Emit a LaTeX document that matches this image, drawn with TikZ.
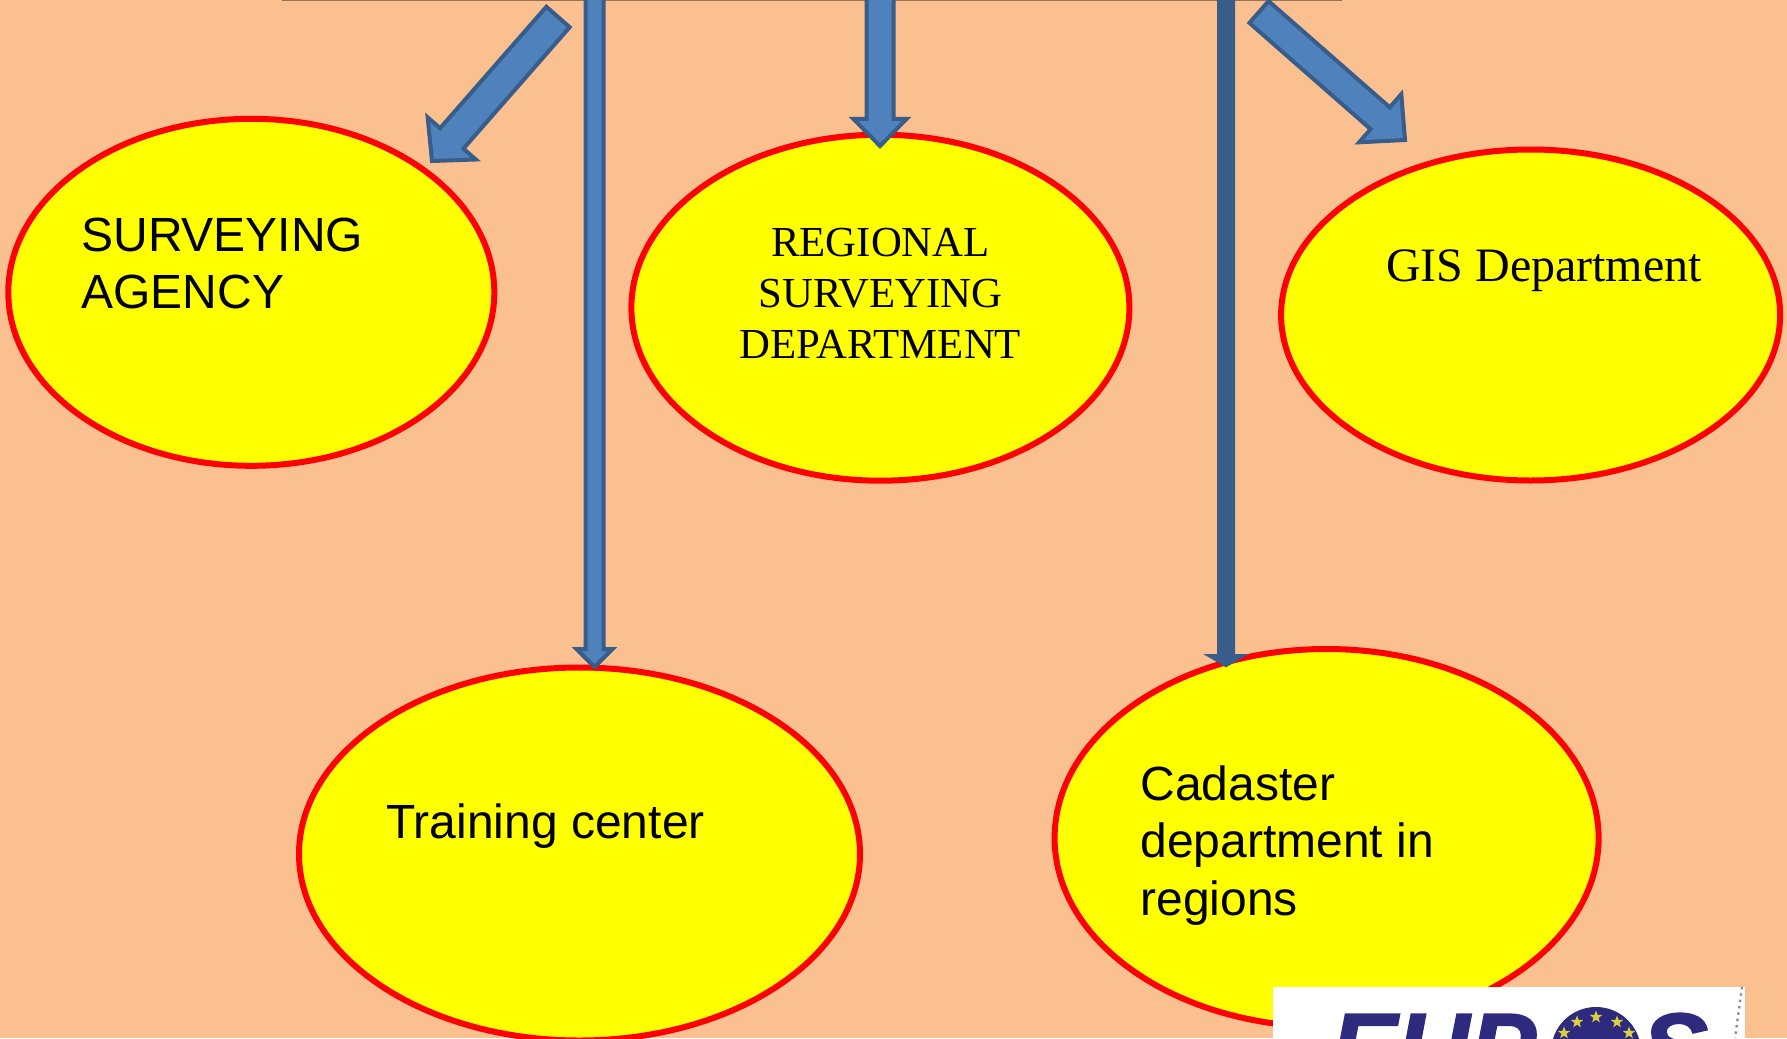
\documentclass[tikz,border=0pt]{standalone}
\usepackage{fontspec}
\setmainfont{Liberation Sans}
\newfontfamily\serifface{Liberation Serif}
\newfontfamily\logoface[BoldItalicFeatures={FakeBold=1.5}]{Liberation Sans}
\usetikzlibrary{calc,shapes.geometric}
\definecolor{pagebg}{HTML}{FAC090}
\definecolor{arrowfill}{HTML}{4F81BD}
\definecolor{arrowline}{HTML}{385D8A}
\definecolor{logoblue}{HTML}{2E2A7E}
\definecolor{officefill}{HTML}{FFFF00}
\definecolor{officeline}{HTML}{FF0000}
\definecolor{logostar}{HTML}{D8D040}
\tikzset{
  office/.style={draw=officeline,fill=officefill,ellipse,line width=3pt,inner sep=0pt},
  blockarrow/.style={draw=arrowline,fill=arrowfill,line width=2pt,line join=miter},
  sanslabel/.style={font=\fontsize{24}{28.6}\selectfont,align=left,inner sep=0pt},
  seriflabel/.style={font=\serifface\fontsize{21.4}{25.6}\selectfont,align=center,inner sep=0pt},
  logoletter/.style={font=\logoface\fontsize{50}{50}\selectfont\bfseries\itshape,text=logoblue,inner sep=0pt}
}
% tail, tip, half shaft width, half head width, head length
\newcommand{\blockarrow}[6][]{
  \coordinate (base) at ($(#3)!#6!(#2)$);
  \draw[blockarrow,#1] ($(#2)!#4!90:(#3)$) -- ($(base)!#4!90:(#3)$) -- ($(base)!#5!90:(#3)$) -- (#3)
    -- ($(base)!#5!-90:(#3)$) -- ($(base)!#4!-90:(#3)$) -- ($(#2)!#4!-90:(#3)$) -- cycle;
}
\begin{document}
\begin{tikzpicture}[x=.5pt,y=-.5pt]
  \useasboundingbox (0,0) rectangle (1787,1038);
  \fill[pagebg] (0,0) rectangle (1787,1038);
  \coordinate (barleft) at (282,.5);
  \coordinate (barright) at (1342,.5);
  \draw[color=black!40!pagebg,line width=.8pt] (barleft) -- (barright);

  % offices
  \node[office,minimum width=243pt,minimum height=173.5pt] (surveying) at (251.3,292.3) {};
  \node[office,minimum width=249pt,minimum height=173pt] (regional) at (880.4,307.7) {};
  \node[office,minimum width=249.5pt,minimum height=165.5pt] (gis) at (1530.6,315) {};
  \node[office,minimum width=280.5pt,minimum height=186.5pt] (training) at (579.5,854) {};
  \node[office,minimum width=272pt,minimum height=189pt] (cadaster) at (1326.6,838) {};

  \node[sanslabel,anchor=west] (surveyingtext) at (81,263.5) {SURVEYING\\AGENCY};
  \node[seriflabel] (regionaltext) at (880.5,293.5) {REGIONAL\\SURVEYING\\DEPARTMENT};
  \node[seriflabel,font=\serifface\fontsize{24}{28}\selectfont] (gistext) at (1544,270.5) {GIS Department};
  \node[sanslabel,anchor=west] (trainingtext) at (386,826) {Training center};
  \node[sanslabel,anchor=west] (cadastertext) at (1140,845.5) {Cadaster\\department in\\regions};

  % arrows
  \coordinate (surveyingtail) at (558,17);
  \coordinate (surveyingtip) at (432,161);
  \coordinate (trainingtail) at (594.5,-3);
  \coordinate (trainingtip) at (594.5,667);
  \coordinate (regionaltail) at (880,-3);
  \coordinate (regionaltip) at (880,146);
  \coordinate (cadastertail) at (1226,-3);
  \coordinate (cadastertip) at (1226,665);
  \coordinate (gistail) at (1259,12);
  \coordinate (gistip) at (1405,140);
  \blockarrow{surveyingtail}{surveyingtip}{7.75pt}{16pt}{15pt}
  \blockarrow{trainingtail}{trainingtip}{4.5pt}{9pt}{9pt}
  \blockarrow{regionaltail}{regionaltip}{6.75pt}{13.25pt}{13.5pt}
  \blockarrow[fill=arrowline]{cadastertail}{cadastertip}{3.5pt}{7.75pt}{4.5pt}
  \blockarrow{gistail}{gistip}{7.25pt}{16pt}{16.5pt}

  % logo, cut by the lower edge
  \begin{scope}
    \clip (1273,987) rectangle (1745,1038);
    \fill[white] (1273,987) rectangle (1745,1038);
    \node[logoletter,anchor=base west] (logoleft) at (1330,1083) {EUP};
    \node[logoletter,anchor=base west] (logoright) at (1641,1083) {S};
    \node[circle,fill=logoblue,minimum size=45pt,inner sep=0pt] (logoglobe) at (1596,1052) {};
    \foreach \sx/\sy in {1596/1017,1577/1022,1617/1022,1564/1033,1629/1033}
      \node[star,star points=5,star point ratio=2.4,fill=logostar,minimum size=6.5pt,inner sep=0pt] at (\sx,\sy) {};
    \draw[black!45,line width=1.2pt,dotted] (1742,987) -- (1735,1038);
  \end{scope}
\end{tikzpicture}
\end{document}
